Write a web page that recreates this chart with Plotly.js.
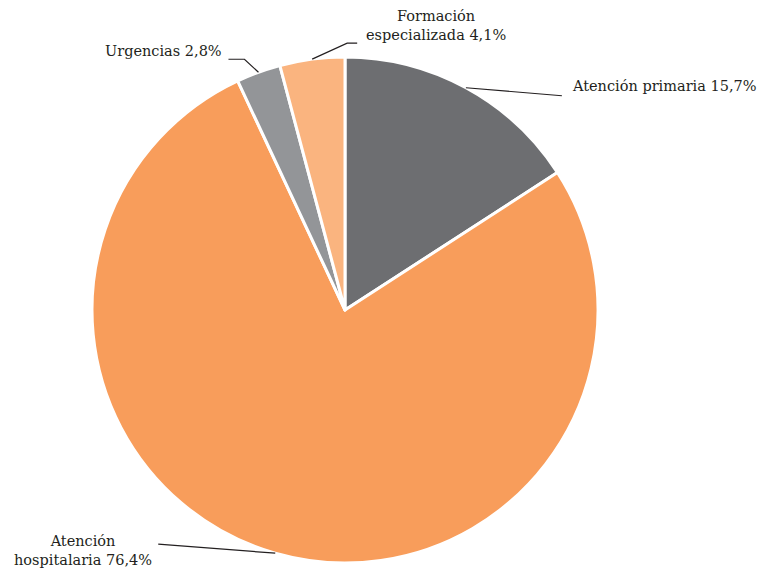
<!DOCTYPE html>
<html>
<head>
<meta charset="utf-8">
<script src="https://cdn.plot.ly/plotly-3.0.1.min.js"></script>
<style>html,body{margin:0;padding:0;background:#fff;}#chart{width:760px;height:573px;}</style>
</head>
<body>
<div id="chart"></div>
<script>
// Data
var categories = ["Atención primaria", "Atención hospitalaria", "Urgencias", "Formación especializada"];
var values = [15.7, 76.4, 2.8, 4.1];
var labelTexts = ["Atención primaria 15,7%", "Atención<br>hospitalaria 76,4%", "Urgencias 2,8%", "Formación<br>especializada 4,1%"];
var colors = ["#6d6e71", "#f89d5b", "#939598", "#fab47f"];

// Layout geometry (pixels)
var W = 760, H = 573;
var cx = 345, cy = 310, R = 253;
function px2x(p){ return p / W; }
function py2y(p){ return 1 - p / H; }

// Mid-angle of each slice, from the data (clockwise from 12 o'clock)
var total = values.reduce(function(a,b){return a+b;}, 0);
var mids = [], acc = 0;
values.forEach(function(v){ mids.push((acc + v/2) / total * 2 * Math.PI); acc += v; });
function edge(i){ return [cx + R*Math.sin(mids[i]), cy - R*Math.cos(mids[i])]; }

// Label placement offsets (style): elbow points and text anchors relative to slice edge point
var leaderSpecs = [
  {pts: [[96, 8]], text: [104, -2], xanchor: "left", align: "left"},
  {pts: [[-117, -9]], text: [-192, -3], xanchor: "center", align: "center"},
  {pts: [[-14, -13], [-30, -13]], text: [-34, -21], xanchor: "right", align: "right"},
  {pts: [[35, -16], [45, -16]], text: [124, -34], xanchor: "center", align: "center"}
];

var FONT = "DejaVu Serif";

var shapes = [], annotations = [];
leaderSpecs.forEach(function(s, i){
  var e = edge(i);
  var d = "M " + px2x(e[0]) + "," + py2y(e[1]);
  s.pts.forEach(function(p){ d += " L " + px2x(e[0]+p[0]) + "," + py2y(e[1]+p[1]); });
  shapes.push({type: "path", xref: "paper", yref: "paper", path: d,
    line: {color: "#231f20", width: 1.2}});
  annotations.push({xref: "paper", yref: "paper",
    x: px2x(e[0] + s.text[0]), y: py2y(e[1] + s.text[1]),
    xanchor: s.xanchor, yanchor: "middle", align: s.align,
    text: labelTexts[i], showarrow: false,
    font: {family: FONT, size: 14.5, color: "#231f20"}});
});

var trace = {
  type: "pie",
  labels: categories,
  values: values,
  sort: false,
  direction: "clockwise",
  rotation: 0,
  textinfo: "none",
  hoverinfo: "label+percent",
  marker: {colors: colors, line: {color: "#ffffff", width: 3}},
  domain: {x: [px2x(cx - R), px2x(cx + R)], y: [py2y(cy + R), py2y(cy - R)]},
  showlegend: false
};

var layout = {
  width: W, height: H,
  margin: {l: 0, r: 0, t: 0, b: 0},
  paper_bgcolor: "#ffffff",
  font: {family: FONT},
  showlegend: false,
  shapes: shapes,
  annotations: annotations
};

Plotly.newPlot("chart", [trace], layout, {displayModeBar: false, staticPlot: true});
</script>
</body>
</html>
